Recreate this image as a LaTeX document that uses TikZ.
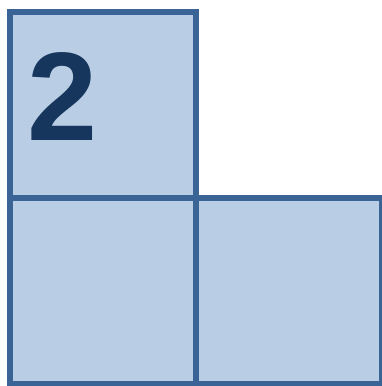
\documentclass[tikz,border=0pt]{standalone}
\usepackage{fontspec}
\setmainfont{Liberation Sans}
\usepackage{tikz}
\usepackage{xcolor}
\definecolor{cellfill}{HTML}{B9CDE5}
\definecolor{cellborder}{HTML}{3A6496}
\definecolor{numcolor}{HTML}{17365D}
\tikzset{
  cell/.style={draw=cellborder,fill=cellfill,line width=6pt,
    minimum size=186pt,inner sep=0pt,outer sep=0pt},
  numlabel/.style={text=numcolor,inner sep=0pt,anchor=base west,
    font=\bfseries\fontsize{126}{126}\selectfont}
}

\begin{document}
\begin{tikzpicture}[x=1pt,y=-1pt]
\useasboundingbox (0,0) rectangle (381,386);
\node[cell] (top) at (102.5,105) {};
\node[cell] (botleft) at (102.5,291) {};
\node[cell] (botright) at (288.5,291) {};
\node[numlabel] (two) at (27,140) {2};
\end{tikzpicture}
\end{document}
